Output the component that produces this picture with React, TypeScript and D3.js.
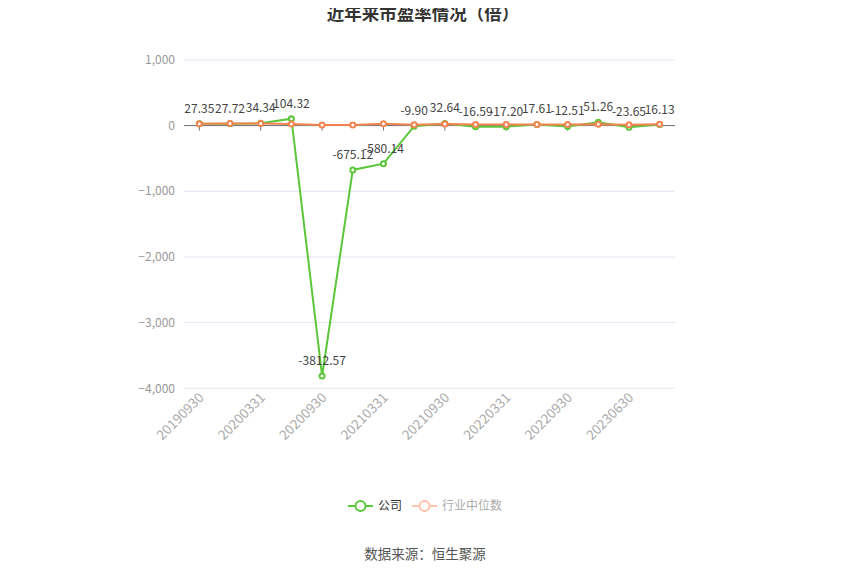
import React from "react";
import * as d3 from "d3";

const categories = [
  "20190930", "20191231", "20200331", "20200630", "20200930", "20201231",
  "20210331", "20210630", "20210930", "20211231", "20220331", "20220630",
  "20220930", "20221231", "20230630", "20230930",
];
const companyValues = [
  27.35, 27.72, 34.34, 104.32, -3812.57, -675.12, -580.14, -9.9, 32.64,
  -16.59, -17.2, 17.61, -12.51, 51.26, -23.65, 16.13,
];
const industryValues = [
  28, 32, 33, 24, 10, 9, 28, 14, 24, 15, 16, 15, 15, 22, 14, 19,
];
const yTicks = [1000, 0, -1000, -2000, -3000, -4000];
const seriesNames = ["公司", "行业中位数"];

const W = 850;
const H = 575;
const FONT = "'Noto Sans CJK SC', 'Microsoft YaHei', sans-serif";
const GREEN = "#5cc63a";
const ORANGE = "#f3844f";

export default function App() {
  const x = d3.scaleBand<string>().domain(categories).range([184, 675]).padding(0);
  const y = d3.scaleLinear().domain([-4000, 1000]).range([388.3, 59.9]);
  const cx = (c: string) => (x(c) as number) + x.bandwidth() / 2;

  const line = d3
    .line<number>()
    .x((_, i) => cx(categories[i]))
    .y((d) => y(d));

  const fmt = d3.format(",");

  return (
    <svg width={W} height={H} style={{ display: "block", margin: "-8px" }} fontFamily={FONT}>
      <rect width={W} height={H} fill="#fff" />
      <text x={423} y={20} textAnchor="middle" fontSize={17.5} fontWeight="bold" fill="#333">
        近年来市盈率情况（倍）
      </text>

      {yTicks.map((t) => (
        <g key={t}>
          {t !== 0 && (
            <line x1={184} x2={675} y1={y(t)} y2={y(t)} stroke="#e0e6f1" strokeWidth={1} />
          )}
          <text x={175} y={y(t)} dy="0.35em" textAnchor="end" fontSize={12} fill="#999">
            {fmt(t)}
          </text>
        </g>
      ))}

      <line x1={184} x2={675} y1={y(0)} y2={y(0)} stroke="#6e7079" strokeWidth={1} />
      {categories.map((c, i) =>
        i % 2 === 0 ? (
          <g key={c}>
            <line x1={cx(c)} x2={cx(c)} y1={y(0)} y2={y(0) + 5} stroke="#6e7079" />
            <text
              transform={`translate(${cx(c) + 2},${395}) rotate(-45)`}
              textAnchor="end"
              fontSize={13.5}
              fill="#aaa"
              dy="0.35em"
            >
              {c}
            </text>
          </g>
        ) : null
      )}

      <path d={line(companyValues) || ""} fill="none" stroke={GREEN} strokeWidth={2} />
      {companyValues.map((v, i) => (
        <circle key={i} cx={cx(categories[i])} cy={y(v)} r={2.5} fill="#fff" stroke={GREEN} strokeWidth={2} />
      ))}

      <path d={line(industryValues) || ""} fill="none" stroke={ORANGE} strokeWidth={2} />
      {industryValues.map((v, i) => (
        <circle key={i} cx={cx(categories[i])} cy={y(v)} r={2.5} fill="#fff" stroke={ORANGE} strokeWidth={2} />
      ))}

      {companyValues.map((v, i) => (
        <text key={i} x={cx(categories[i])} y={y(v) - 11} textAnchor="middle" fontSize={12} fill="#444">
          {v.toFixed(2)}
        </text>
      ))}

      <g>
        <line x1={348} x2={373} y1={506} y2={506} stroke={GREEN} strokeWidth={2} />
        <circle cx={360.5} cy={506} r={5} fill="#fff" stroke={GREEN} strokeWidth={2} />
        <text x={378} y={506} dy="0.35em" fontSize={12} fill="#333">{seriesNames[0]}</text>
        <line x1={412} x2={437} y1={506} y2={506} stroke="#ffc3ac" strokeWidth={2} />
        <circle cx={424.5} cy={506} r={5} fill="#fff" stroke="#ffc3ac" strokeWidth={2} />
        <text x={442} y={506} dy="0.35em" fontSize={12} fill="#aaa">{seriesNames[1]}</text>
      </g>

      <text x={425} y={554} dy="0.35em" textAnchor="middle" fontSize={13.5} fill="#555">
        数据来源：恒生聚源
      </text>
    </svg>
  );
}
